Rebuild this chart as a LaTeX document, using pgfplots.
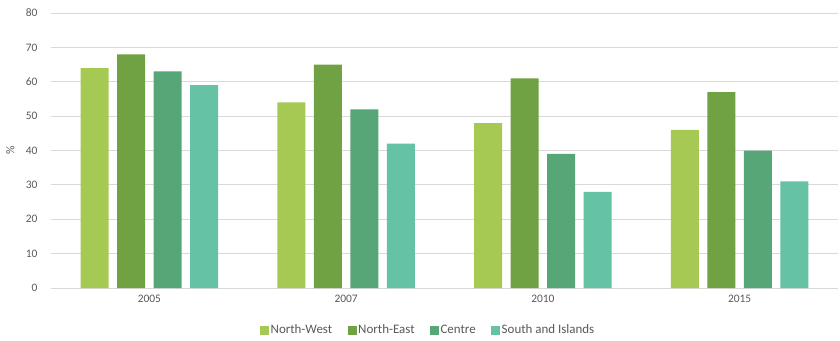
\documentclass[border=0pt]{standalone}
\usepackage{pgfplots}
\pgfplotsset{compat=1.18}
\usepackage{fontspec}
\setmainfont{Carlito}
\definecolor{nw}{HTML}{A5C953}
\definecolor{ne}{HTML}{70A244}
\definecolor{ce}{HTML}{57A677}
\definecolor{si}{HTML}{66C2A5}
\definecolor{txt}{HTML}{595959}
\definecolor{grd}{HTML}{D9D9D9}
\begin{document}
\begin{tikzpicture}[x=1bp,y=1bp]
\path[use as bounding box] (-51,-52) rectangle (789,288);
\begin{axis}[
  at={(0,0)}, anchor=south west,
  scale only axis, width=787bp, height=275bp,
  ybar=8.5bp, bar width=28bp,
  xmin=-0.5, xmax=3.5, ymin=0, ymax=80,
  xtick=data, xticklabels={2005,2007,2010,2015},
  ytick={0,10,...,80},
  ymajorgrids, grid style={grd, line width=0.8pt},
  axis x line*=bottom, axis y line*=left,
  x axis line style={grd, line width=0.8pt},
  y axis line style={draw=none},
  major tick length=0pt,
  tick label style={font=\fontsize{11.5}{12}\selectfont, text=txt},
  /pgf/number format/assume math mode=true,
  ylabel={\%}, ylabel style={font=\fontsize{12}{12}\selectfont, text=txt, at={(-33bp,0.5)}},
  yticklabel style={xshift=-10bp},
  xticklabel style={yshift=-4bp},
  legend style={draw=none, at={(0.479,-0.153)}, anchor=center, legend columns=-1,
    font=\fontsize{13}{14}\selectfont, text=txt,
    nodes={inner xsep=1.5bp},
    /tikz/every odd column/.append style={column sep=0bp},
    /tikz/every even column/.append style={column sep=14bp}},
  legend image code/.code={\fill[#1] (0bp,-4.5bp) rectangle (9bp,4.5bp);},
  clip=false,
]
\addplot[fill=nw, draw=none] coordinates {(0,64) (1,54) (2,48) (3,46)};
\addplot[fill=ne, draw=none] coordinates {(0,68) (1,65) (2,61) (3,57)};
\addplot[fill=ce, draw=none] coordinates {(0,63) (1,52) (2,39) (3,40)};
\addplot[fill=si, draw=none] coordinates {(0,59) (1,42) (2,28) (3,31)};
\legend{North-West, North-East, Centre, South and Islands}
\end{axis}
\end{tikzpicture}
\end{document}
